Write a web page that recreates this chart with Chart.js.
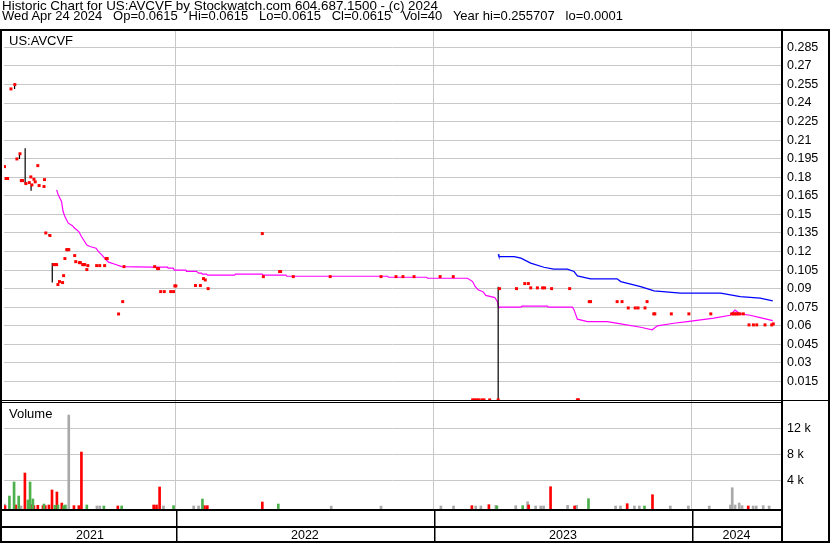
<!DOCTYPE html>
<html>
<head>
<meta charset="utf-8">
<title>US:AVCVF historic chart</title>
<script src="https://cdn.jsdelivr.net/npm/chart.js@4.4.1/dist/chart.umd.min.js"></script>
<style>
  html, body { margin: 0; padding: 0; background: #fff; }
  #wrap { position: relative; width: 830px; height: 543px; overflow: hidden; }
  #chart { position: absolute; left: 0; top: 0; }
  .txt { position: absolute; white-space: pre; font: 13px/13px "Liberation Sans", Arial, sans-serif; color: #000; }
</style>
</head>
<body>
<div id="wrap">
  <canvas id="chart" width="830" height="543"></canvas>
  <div class="txt" style="left:2px;top:-1px;font-size:13.4px">Historic Chart for US:AVCVF by Stockwatch.com 604.687.1500 - (c) 2024</div>
  <div class="txt" style="left:2px;top:9px">Wed Apr 24 2024   Op=0.0615   Hi=0.0615   Lo=0.0615   Cl=0.0615   Vol=40   Year hi=0.255707   lo=0.0001</div>
  <div class="txt" style="left:9px;top:34px">US:AVCVF</div>
  <div class="txt" style="left:9px;top:407px">Volume</div>
</div>
<script>
// historic price + volume, dates are fractional years

const yearStarts = [2022, 2023, 2024];
const yearNames = ["2021", "2022", "2023", "2024"];
const priceTicks = [0.015, 0.03, 0.045, 0.06, 0.075, 0.09, 0.105, 0.12, 0.135, 0.15,
  0.165, 0.18, 0.195, 0.21, 0.225, 0.24, 0.255, 0.27, 0.285];
const volTicks = [4000, 8000, 12000];

// daily closes (red squares)
const closeDates = [
  2021.336, 2021.342, 2021.348, 2021.361, 2021.376, 2021.384, 2021.396, 2021.401, 2021.406, 2021.419,
  2021.432, 2021.438, 2021.442, 2021.450, 2021.455, 2021.465, 2021.470, 2021.489, 2021.491, 2021.496,
  2021.512, 2021.527, 2021.532, 2021.538, 2021.543, 2021.549, 2021.561, 2021.565, 2021.570, 2021.577,
  2021.581, 2021.585, 2021.608, 2021.612, 2021.626, 2021.630, 2021.639, 2021.643, 2021.647, 2021.655,
  2021.659, 2021.693, 2021.705, 2021.724, 2021.730, 2021.734, 2021.778, 2021.794, 2021.799, 2021.918,
  2021.929, 2021.933, 2021.941, 2021.955, 2021.980, 2021.991, 2021.996, 2022.000, 2022.076, 2022.095,
  2022.107, 2022.114, 2022.125, 2022.335, 2022.339, 2022.402, 2022.406, 2022.455, 2022.598, 2022.795,
  2022.853, 2022.880, 2022.923, 2023.024, 2023.075, 2023.150, 2023.158, 2023.166, 2023.174, 2023.186,
  2023.194, 2023.216, 2023.249, 2023.254, 2023.320, 2023.352, 2023.366, 2023.375, 2023.401, 2023.421,
  2023.429, 2023.456, 2023.526, 2023.556, 2023.560, 2023.602, 2023.607, 2023.710, 2023.729, 2023.753,
  2023.780, 2023.791, 2023.818, 2023.826, 2023.852, 2023.856, 2023.920, 2023.988, 2024.073, 2024.154,
  2024.160, 2024.166, 2024.172, 2024.178, 2024.186, 2024.199, 2024.221, 2024.238, 2024.251, 2024.283,
  2024.309, 2024.315
];
const closePrices = [
  0.1886, 0.179, 0.179, 0.2514, 0.2549, 0.1948, 0.199, 0.1773, 0.1773, 0.1749,
  0.1757, 0.1803, 0.1738, 0.1784, 0.1763, 0.1894, 0.1733, 0.1725, 0.1781, 0.135,
  0.1329, 0.1094, 0.1094, 0.1094, 0.0933, 0.0957, 0.0949, 0.1005, 0.1143, 0.1215,
  0.1215, 0.1215, 0.1167, 0.1118, 0.111, 0.111, 0.1094, 0.1094, 0.1094, 0.1054,
  0.1086, 0.1086, 0.1086, 0.1086, 0.1143, 0.1143, 0.0695, 0.0795, 0.1078, 0.1078,
  0.1062, 0.1062, 0.0876, 0.0876, 0.0876, 0.0876, 0.0922, 0.0922, 0.0925, 0.0925,
  0.0981, 0.097, 0.09, 0.1345, 0.0997, 0.1038, 0.1038, 0.0997, 0.0997, 0.0997,
  0.0997, 0.0997, 0.0997, 0.0997, 0.0997, 0.0001, 0.0001, 0.0001, 0.0001, 0.0001,
  0.0001, 0.0001, 0.0001, 0.09, 0.09, 0.0941, 0.0941, 0.0906, 0.0906, 0.0906,
  0.0906, 0.09, 0.09, 0.0001, 0.0001, 0.0795, 0.0795, 0.0795, 0.0795, 0.0744,
  0.0744, 0.0744, 0.0744, 0.0795, 0.0696, 0.0696, 0.0696, 0.0696, 0.0696, 0.0696,
  0.0696, 0.0696, 0.0696, 0.0696, 0.0696, 0.0696, 0.0607, 0.0607, 0.0607, 0.0607,
  0.0607, 0.0615
];

// days with a visible high-low range (black ticks)
const rangeDates = [2021.375, 2021.394, 2021.416, 2021.439, 2021.509, 2021.521, 2023.249];
const rangeHighs = [0.2557, 0.1994, 0.2035, 0.1741, 0.1342, 0.1108, 0.0916];
const rangeLows = [0.2514, 0.1948, 0.1744, 0.1692, 0.1326, 0.0949, 0.0001];

// short moving average (magenta)
const maShortDates = [
  2021.538, 2021.544, 2021.557, 2021.563, 2021.570, 2021.583, 2021.599, 2021.608, 2021.624, 2021.634,
  2021.655, 2021.667, 2021.691, 2021.700, 2021.713, 2021.726, 2021.739, 2021.764, 2021.790, 2021.906,
  2021.968, 2021.970, 2021.990, 2021.994, 2022.039, 2022.041, 2022.080, 2022.088, 2022.099, 2022.103,
  2022.119, 2022.123, 2022.228, 2022.231, 2022.335, 2022.339, 2022.426, 2022.430, 2022.821, 2022.824,
  2022.972, 2022.975, 2023.130, 2023.150, 2023.159, 2023.171, 2023.190, 2023.201, 2023.236, 2023.246,
  2023.250, 2023.252, 2023.337, 2023.341, 2023.440, 2023.443, 2023.537, 2023.543, 2023.556, 2023.595,
  2023.672, 2023.724, 2023.801, 2023.846, 2023.866, 2023.930, 2023.982, 2024.085, 2024.148, 2024.167,
  2024.187, 2024.225, 2024.264, 2024.313
];
const maShortValues = [
  0.1698, 0.1658, 0.1604, 0.1523, 0.1482, 0.1429, 0.1409, 0.1388, 0.1361, 0.1321,
  0.1253, 0.124, 0.1227, 0.1199, 0.1173, 0.114, 0.1114, 0.1097, 0.1078, 0.1073,
  0.1073, 0.1065, 0.1065, 0.1049, 0.1049, 0.104, 0.104, 0.1025, 0.1025, 0.1017,
  0.1017, 0.1009, 0.1009, 0.1017, 0.1017, 0.1009, 0.1009, 0.1, 0.1, 0.0992,
  0.0992, 0.0984, 0.0984, 0.0957, 0.092, 0.089, 0.0875, 0.0845, 0.0828, 0.0795,
  0.0755, 0.075, 0.075, 0.0758, 0.0758, 0.075, 0.075, 0.0728, 0.0653, 0.0634,
  0.0634, 0.0615, 0.0588, 0.0567, 0.0599, 0.062, 0.0634, 0.0661, 0.0685, 0.0726,
  0.0696, 0.0685, 0.0666, 0.0642
];

// long moving average (blue)
const maLongDates = [
  2023.249, 2023.252, 2023.311, 2023.337, 2023.375, 2023.426, 2023.464, 2023.517, 2023.543, 2023.556,
  2023.607, 2023.710, 2023.724, 2023.801, 2023.853, 2023.956, 2024.111, 2024.187, 2024.264, 2024.313
];
const maLongValues = [
  0.1178, 0.1159, 0.1159, 0.1146, 0.1106, 0.1073, 0.1057, 0.1057, 0.1038, 0.1003,
  0.0979, 0.0979, 0.0957, 0.0916, 0.0882, 0.0863, 0.0863, 0.0836, 0.0823, 0.0801
];

// volume, split by up / down / unchanged days
const upVolDates = [
  2021.355, 2021.373, 2021.391, 2021.427, 2021.435, 2021.446, 2021.489, 2021.531, 2021.543, 2021.565,
  2021.572, 2021.655, 2021.721, 2021.790, 2021.991, 2022.103, 2022.397, 2023.244, 2023.344, 2023.599,
  2023.816
];
const upVolValues = [
  1580, 3740, 1580, 970, 3740, 1120, 350, 150, 200, 100,
  200, 200, 50, 50, 100, 1120, 350, 50, 100, 1170,
  50
];
const downVolDates = [
  2021.338, 2021.379, 2021.415, 2021.438, 2021.450, 2021.465, 2021.485, 2021.494, 2021.508, 2021.520,
  2021.539, 2021.558, 2021.605, 2021.624, 2021.634, 2021.775, 2021.914, 2021.925, 2021.937, 2022.111,
  2022.122, 2022.335, 2023.147, 2023.213, 2023.367, 2023.452, 2023.545, 2023.749, 2023.847, 2024.218
];
const downVolValues = [
  100, 200, 5120, 250, 100, 150, 100, 100, 200, 2510,
  2200, 500, 100, 100, 8350, 50, 200, 200, 2970, 100,
  100, 660, 100, 250, 200, 3015, 50, 400, 1780, 50
];
const flatVolDates = [
  2021.336, 2021.400, 2021.585, 2021.694, 2021.705, 2021.952, 2022.069, 2022.088, 2022.602, 2022.795,
  2023.027, 2023.076, 2023.162, 2023.182, 2023.240, 2023.317, 2023.363, 2023.394, 2023.414, 2023.425,
  2023.518, 2023.553, 2023.704, 2023.723, 2023.777, 2023.796, 2023.916, 2023.986, 2024.067, 2024.149,
  2024.156, 2024.167, 2024.183, 2024.194, 2024.237, 2024.249, 2024.276, 2024.299
];
const flatVolValues = [
  350, 50, 14040, 50, 50, 50, 50, 50, 30, 30,
  50, 50, 50, 50, 150, 100, 700, 50, 50, 50,
  150, 150, 50, 50, 50, 50, 50, 50, 50, 200,
  2860, 200, 500, 100, 50, 50, 100, 50
];

const FONT = '"Liberation Sans", Arial, sans-serif';
const xMin = 2021.334, xMax = 2024.345;

const pts = (xs, ys) => xs.map((x, i) => ({ x, y: ys[i] }));

// each high-low pair becomes a short vertical segment, nulls break the line
const rangeData = rangeDates.flatMap((d, i) => [
  { x: d, y: rangeLows[i] }, { x: d, y: rangeHighs[i] }, { x: d, y: null }
]);

function volBars(xs, ys, color) {
  return {
    type: "bar",
    yAxisID: "yv",
    data: pts(xs, ys),
    backgroundColor: color,
    barThickness: 2,
    grouped: false,
    base: -415,
    order: 5
  };
}

// frame lines, bottom date strip and year names
const framePlugin = {
  id: "frame",
  beforeDatasetsDraw(chart) {
    const { ctx, chartArea: a, width: W, height: H } = chart;
    const xs = chart.scales.x;
    const py = chart.scales.y;
    const top = a.top - 2;
    ctx.save();
    ctx.fillStyle = "#000";
    ctx.fillRect(0, top, W, 2);
    ctx.fillRect(0, top, 2, H - top);
    ctx.fillRect(W - 2, top, 2, H - top);
    ctx.fillRect(a.right, top, 2, H - top);
    ctx.fillRect(0, Math.round(py.bottom), W, 1);
    ctx.fillRect(0, Math.round(py.bottom) + 2, a.right, 1);
    ctx.fillRect(0, a.bottom, a.right, 2);
    ctx.fillRect(0, a.bottom + 17, a.right, 2);
    ctx.fillRect(0, H - 2, W, 2);
    for (const v of yearStarts) {
      ctx.fillRect(Math.round(xs.getPixelForValue(v)), a.bottom, 1.5, H - a.bottom);
    }
    ctx.font = "12.5px " + FONT;
    ctx.textAlign = "center";
    ctx.textBaseline = "alphabetic";
    const edges = [xs.min, ...yearStarts, xs.max];
    yearNames.forEach((name, i) => {
      const mid = (xs.getPixelForValue(edges[i]) + xs.getPixelForValue(edges[i + 1])) / 2;
      ctx.fillText(name, mid, a.bottom + 30);
    });
    ctx.restore();
  }
};

function fixAxis(scale) {
  scale.width = 49;
  scale.paddingTop = 0;
  scale.paddingBottom = 0;
}

new Chart(document.getElementById("chart"), {
  type: "line",
  data: {
    datasets: [
      {
        label: "close",
        yAxisID: "y",
        data: pts(closeDates, closePrices),
        showLine: false,
        pointStyle: "rect",
        pointRadius: 2.1,
        pointBorderWidth: 0,
        pointBackgroundColor: "#ff0000",
        order: 1
      },
      {
        label: "range",
        yAxisID: "y",
        data: rangeData,
        borderColor: "#000",
        borderWidth: 1.2,
        pointRadius: 0,
        spanGaps: false,
        order: 2
      },
      {
        label: "short avg",
        yAxisID: "y",
        data: pts(maShortDates, maShortValues),
        borderColor: "#ff00ff",
        borderWidth: 1.2,
        pointRadius: 0,
        tension: 0,
        order: 3
      },
      {
        label: "long avg",
        yAxisID: "y",
        data: pts(maLongDates, maLongValues),
        borderColor: "#0000ff",
        borderWidth: 1.2,
        pointRadius: 0,
        tension: 0,
        order: 3
      },
      volBars(upVolDates, upVolValues, "#4cb04c"),
      volBars(downVolDates, downVolValues, "#ff0000"),
      volBars(flatVolDates, flatVolValues, "#a9a9a9")
    ]
  },
  plugins: [framePlugin],
  options: {
    responsive: false,
    animation: false,
    devicePixelRatio: 1,
    events: [],
    layout: { padding: { left: 2, top: 31, right: 0, bottom: 34 } },
    plugins: { legend: { display: false }, tooltip: { enabled: false } },
    scales: {
      x: {
        type: "linear",
        min: xMin,
        max: xMax,
        offset: false,
        border: { display: false },
        grid: { color: "#c8c8c8", drawTicks: false, tickLength: 0, offset: false },
        ticks: { display: false, autoSkip: false },
        afterBuildTicks: s => { s.ticks = yearStarts.map(v => ({ value: v })); }
      },
      y: {
        type: "linear",
        position: "right",
        stack: "panels",
        stackWeight: 369,
        weight: 1,
        min: 0,
        max: 0.2982,
        border: { display: false },
        grid: { color: "#c8c8c8", drawTicks: false, tickLength: 0 },
        ticks: {
          autoSkip: false,
          padding: 6,
          color: "#000",
          font: { family: FONT, size: 12.5 },
          callback: v => String(+v.toFixed(3))
        },
        afterBuildTicks: s => { s.ticks = priceTicks.map(v => ({ value: v })); },
        afterFit: fixAxis
      },
      yv: {
        type: "linear",
        position: "right",
        stack: "panels",
        stackWeight: 109,
        weight: 2,
        min: -415,
        max: 16354,
        border: { display: false },
        grid: { color: "#c8c8c8", drawTicks: false, tickLength: 0 },
        ticks: {
          autoSkip: false,
          padding: 6,
          color: "#000",
          font: { family: FONT, size: 12.5 },
          callback: v => (v / 1000) + " k"
        },
        afterBuildTicks: s => { s.ticks = volTicks.map(v => ({ value: v })); },
        afterFit: fixAxis
      }
    }
  }
});
</script>
</body>
</html>
